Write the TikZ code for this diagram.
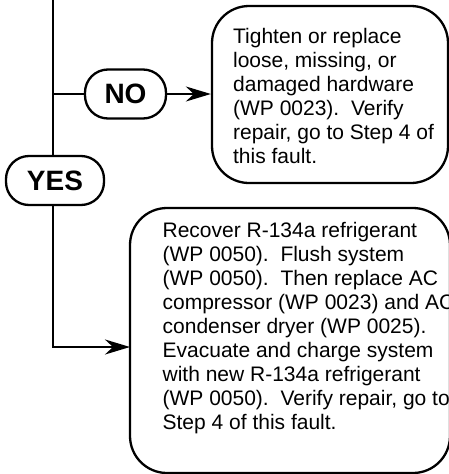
\documentclass[tikz,border=0pt]{standalone}
\usepackage{fontspec}
\setmainfont{Liberation Sans}
\usetikzlibrary{arrows.meta}
\begin{document}
\begin{tikzpicture}[x=1pt,y=-1pt, line width=2.3pt,
  boxstyle/.style={draw, rounded corners=37pt, inner sep=0pt},
  pill/.style={draw, rounded corners=23pt, inner sep=0pt, minimum height=49pt,
    font=\fontsize{28}{32}\selectfont\bfseries},
  txt/.style={anchor=base west, inner sep=0pt,
    font=\fontsize{21}{24}\selectfont\frenchspacing},
  arr/.style={-{Stealth[length=25pt,width=15pt,inset=8pt]}}]
\useasboundingbox (0,0) rectangle (449,474);
\clip (0,0) rectangle (449,474);
\node[boxstyle, minimum width=236pt, minimum height=177pt] (box1) at (330,94.5) {};
\node[boxstyle, minimum width=320pt, minimum height=265pt] (box2) at (290,340.5) {};
\node[pill, minimum width=81pt] (no) at (125.5,94) {NO};
\node[pill, minimum width=98pt] (yes) at (55,180.5) {YES};
\coordinate (top) at (53.3,-5);
\coordinate (j1) at (53.3,94);
\coordinate (in2) at (130,347);
\node[txt] (t1) at (232,43.3) {\parbox[t]{300pt}{\raggedright
Tighten or replace\\
loose, missing, or\\
damaged hardware\\
(WP 0023).\ \ Verify\\
repair, go to Step 4 of\\
this fault.}};
\node[txt] (t2) at (161.5,237) {\parbox[t]{330pt}{\raggedright
Recover R-134a refrigerant\\
(WP 0050).\ \ Flush system\\
(WP 0050).\ \ Then replace AC\\
compressor (WP 0023) and AC\\
condenser dryer (WP 0025).\\
Evacuate and charge system\\
with new R-134a refrigerant\\
(WP 0050).\ \ Verify repair, go to\\
Step 4 of this fault.}};
\draw (top) -- (top |- yes.north);
\draw (j1) -- (no.west);
\draw[arr] (no.east) -- (no.east -| box1.west);
\draw[arr] (top |- yes.south) |- (in2);
\end{tikzpicture}
\end{document}
